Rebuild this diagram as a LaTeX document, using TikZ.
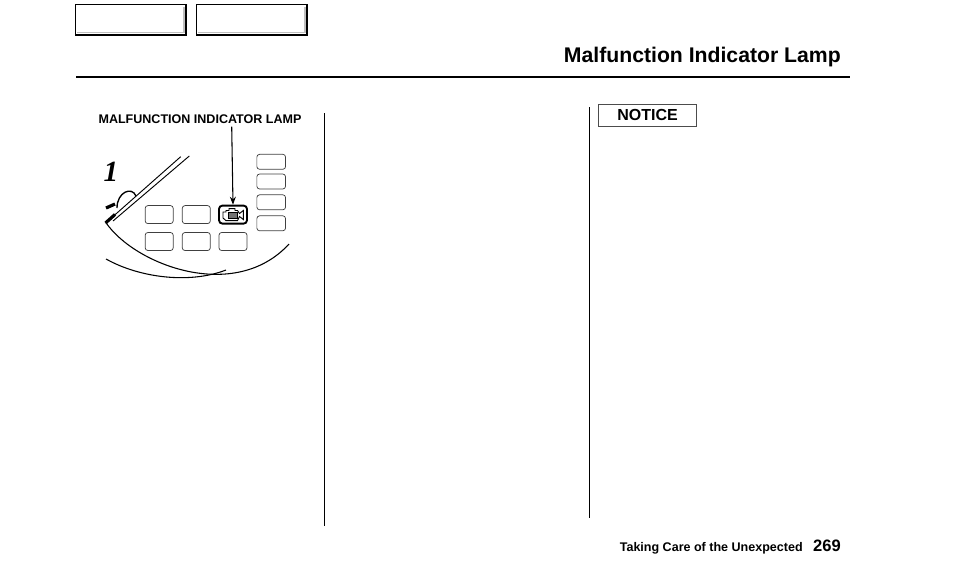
\documentclass[tikz,border=0pt]{standalone}
\usepackage{fontspec}
\setmainfont{Liberation Sans}
\newfontfamily\dialfont{Liberation Serif}
\usetikzlibrary{positioning,arrows.meta}
\tikzset{
	tabbox/.style={draw, line width=1.1pt, minimum width=83pt, minimum height=22.6pt, inner sep=0pt},
	lampbox/.style={draw=black!75, line width=0.55pt, rounded corners=2pt, minimum width=21pt, minimum height=13.5pt, inner sep=0pt},
	sidebox/.style={draw=black!75, line width=0.55pt, rounded corners=2pt, minimum width=21.5pt, minimum height=11.2pt, inner sep=0pt},
	rulev/.style={line width=0.8pt},
	caption/.style={font=\bfseries, inner sep=0pt}
}
\begin{document}
\begin{tikzpicture}[x=0.75pt, y=-0.75pt]
	\useasboundingbox (0,0) rectangle (954,572);
	% top tabs
	\node [tabbox] (tab1) at (130.8,19.8) {};
	\node [tabbox] (tab2) at (251.8,19.8) {};
	\draw [black!25, line width=1.3pt] (184.2,7) -- (184.2,32.4) -- (77,32.4);
	\draw [black!25, line width=1.3pt] (305.2,7) -- (305.2,32.4) -- (198,32.4);
	\node [caption, font=\fontsize{15.9pt}{18pt}\bfseries, anchor=east] (title) at (841,57) {Malfunction Indicator Lamp};
	\draw [line width=2pt] (76,77) -- (850,77);
	\draw [rulev] (324.6,113) -- (324.6,526);
	\draw [rulev] (589.4,107) -- (589.4,518);
	% cluster
	\draw [line width=0.7pt] (106,222.7) -- (180.7,156.7);
	\draw [line width=0.7pt] (113,221) -- (189.3,156);
	\draw [line width=2.4pt] (105.5,223) -- (115,214.5);
	\draw [line width=0.8pt] (106,222.7) .. controls (135,265) and (235,303) .. (289,244);
	\draw [line width=0.8pt] (106,259) .. controls (140,278) and (190,284) .. (226,270);
	\draw [line width=1pt] (117,208) .. controls (117,192) and (132,186) .. (136,196);
	\draw [line width=2.4pt] (106,208) -- (115,204);
	\node [inner sep=0pt, font=\fontsize{22pt}{22pt}\dialfont\bfseries\itshape] (mile) at (111,172) {1};
	\node [lampbox] (m1) at (159.2,214.6) {};
	\node [lampbox] (m2) at (196.3,214.6) {};
	\node [lampbox, line width=1.4pt, draw=black, rounded corners=2.5pt] (m3) at (233,214.6) {};
	\node [lampbox] (n1) at (159.2,241.5) {};
	\node [lampbox] (n2) at (196.3,241.5) {};
	\node [lampbox] (n3) at (233,241.5) {};
	\node [sidebox] (s1) at (271.2,161.8) {};
	\node [sidebox] (s2) at (271.2,181.5) {};
	\node [sidebox] (s3) at (271.2,202.3) {};
	\node [sidebox] (s4) at (271.2,223.3) {};
	% engine symbol
	\draw [line width=0.7pt] (223,212) -- (226,212) -- (226,210.5) -- (229,210.5) -- (229,208.6) -- (235,208.6) -- (235,210.5) -- (237.5,210.5) -- (239.5,213.5) -- (243.3,210.5) -- (243.3,219.5) -- (239.5,216.5) -- (237.5,220.6) -- (226,220.6) -- (223,218) -- cycle;
	\draw [line width=0.6pt, fill=black!55] (228,212.8) rectangle (237,218.2);
	\node [caption, font=\fontsize{9.4pt}{11pt}\bfseries] (label) at (200,119) {MALFUNCTION INDICATOR LAMP};
	\draw [-{Stealth[length=6pt,width=4.5pt]}, line width=0.8pt] (231.7,126.5) -- (m3.north);
	% notice
	\node [draw=black!70, line width=0.6pt, minimum width=73pt, minimum height=16.5pt, inner sep=0pt, font=\fontsize{12pt}{14pt}\bfseries] (notice) at (647.5,115.4) {NOTICE};
	% footer
	\node [caption, font=\fontsize{9.4pt}{11pt}\bfseries, anchor=east] (footer) at (803,548) {Taking Care of the Unexpected};
	\node [caption, font=\fontsize{12.4pt}{14pt}\bfseries, anchor=east] (page) at (841,546) {269};
\end{tikzpicture}
\end{document}
